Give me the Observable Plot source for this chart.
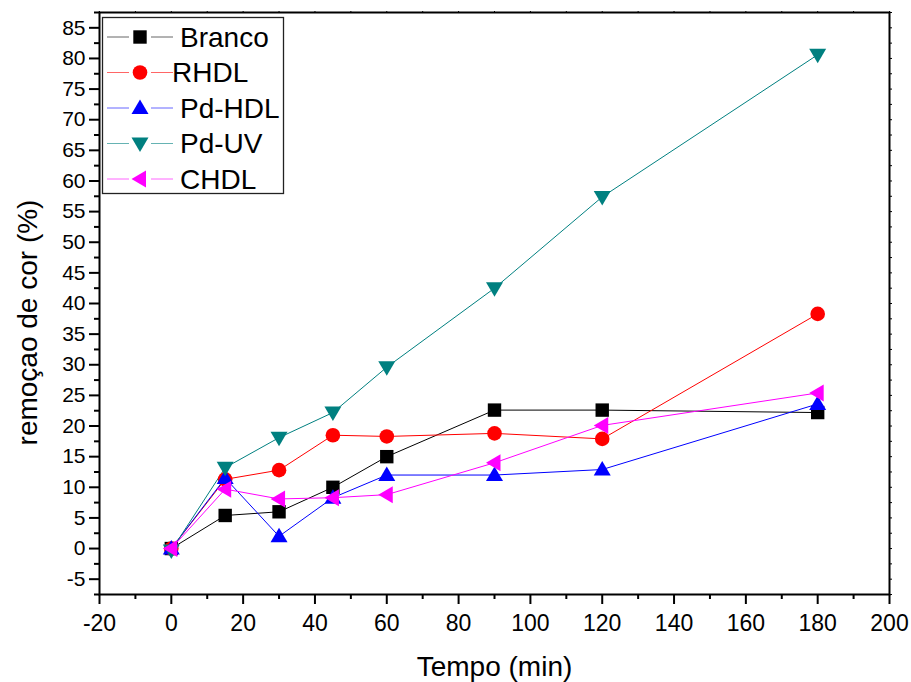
<!DOCTYPE html>
<html>
<head>
<meta charset="utf-8">
<script src="https://cdn.jsdelivr.net/npm/d3@7"></script>
<script src="https://cdn.jsdelivr.net/npm/@observablehq/plot@0.6"></script>
<style>
  html, body { margin: 0; padding: 0; background: #fff; }
  #wrap { position: relative; width: 911px; height: 682px; font-family: "Liberation Sans", Arial, sans-serif; }
  #legend { position: absolute; left: 102px; top: 17px; }
</style>
</head>
<body>
<div id="wrap"><div id="chart"></div><div id="legend"></div></div>
<script>
// ---- data ----
const tempo = [0, 15, 30, 45, 60, 90, 120, 180];
const branco = [0, 5.4, 6.0, 10.0, 15.0, 22.6, 22.6, 22.2];
const rhdl = [0, 11.3, 12.8, 18.5, 18.3, 18.8, 17.9, 38.3];
const pdHdl = [0, 11.5, 2.0, 8.3, 12.0, 12.0, 12.9, 23.6];
const pdUv = [-0.3, 13.2, 18.1, 22.2, 29.6, 42.5, 57.4, 80.6];
const chdl = [0, 9.7, 8.1, 8.3, 8.8, 14.0, 20.1, 25.4];
const seriesNames = ["Branco", "RHDL", "Pd-HDL", "Pd-UV", "CHDL"];
const seriesValues = [branco, rhdl, pdHdl, pdUv, chdl];
const xTicks = [-20, 0, 20, 40, 60, 80, 100, 120, 140, 160, 180, 200];
const yTicks = [-5, 0, 5, 10, 15, 20, 25, 30, 35, 40, 45, 50, 55, 60, 65, 70, 75, 80, 85];
const xLabel = "Tempo (min)";
const yLabel = "remoçao de cor (%)";

// ---- styles ----
const colors = ["#000000", "#ff0000", "#0000ff", "#008080", "#ff00ff"];
const k = s => Math.sqrt(s / Math.PI) / 7.5;
const poly = (pts) => ({ draw(ctx, size) { const f = k(size); ctx.moveTo(pts[0][0]*f, pts[0][1]*f); for (let i = 1; i < pts.length; i++) ctx.lineTo(pts[i][0]*f, pts[i][1]*f); ctx.closePath(); } });
const symSquare = poly([[-6.7,-6.7],[6.7,-6.7],[6.7,6.7],[-6.7,6.7]]);
const symCircle = { draw(ctx, size) { const r = 7.3 * k(size); ctx.moveTo(r, 0); ctx.arc(0, 0, r, 0, 2*Math.PI); } };
const symUp = poly([[0,-8.5],[8.5,6],[-8.5,6]]);
const symDown = poly([[0,8.5],[8.5,-6],[-8.5,-6]]);
const symLeft = poly([[-8.5,0],[6,-8.5],[6,8.5]]);
const symbols = [symSquare, symCircle, symUp, symDown, symLeft];

const rows = seriesNames.flatMap((n, i) => tempo.map((t, j) => ({ serie: n, tempo: t, valor: seriesValues[i][j] })));

const font = "'Liberation Sans', Arial, sans-serif";
const range = (a, b, s) => d3.range(a, b + 1e-9, s);
const plain = d => String(d);

const marks = [
  Plot.axisX(xTicks, { tickSize: 10, tickPadding: 10, fontSize: 23, strokeWidth: 2, label: null, tickFormat: plain }),
  Plot.axisX(range(-10, 190, 20), { tickSize: 5, tickFormat: () => "", strokeWidth: 2, label: null }),
  Plot.axisY(yTicks, { tickSize: 10, tickPadding: 4, fontSize: 21, strokeWidth: 2, label: null, tickFormat: plain }),
  Plot.axisY(range(-7.5, 87.5, 5), { tickSize: 5, tickFormat: () => "", strokeWidth: 2, label: null }),
  Plot.axisX(range(-20, 200, 10), { anchor: "top", tickSize: 2, tickFormat: () => "", strokeWidth: 1, label: null }),
  Plot.axisY(range(-7.5, 87.5, 2.5), { anchor: "right", tickSize: 2, tickFormat: () => "", strokeWidth: 1, label: null }),
  Plot.line(rows, { x: "tempo", y: "valor", z: "serie", stroke: "serie", strokeWidth: 1 }),
  ...seriesNames.map((n, i) => Plot.dot(rows.filter(d => d.serie === n), { x: "tempo", y: "valor", symbol: symbols[i], r: 7.5, fill: colors[i], stroke: "none" })),
  Plot.frame({ stroke: "black", strokeWidth: 2 }),
  Plot.text([xLabel], { frameAnchor: "bottom", dy: 73, fontSize: 28, lineAnchor: "middle", fill: "black" }),
  Plot.text([yLabel], { frameAnchor: "left", dx: -71, dy: 19, rotate: -90, fontSize: 28, lineAnchor: "middle", textAnchor: "middle", fill: "black" })
];

const chart = Plot.plot({
  width: 911, height: 682,
  marginLeft: 99, marginRight: 22, marginTop: 12, marginBottom: 88,
  x: { domain: [-20, 200] },
  y: { domain: [-7.5, 87.5] },
  color: { domain: seriesNames, range: colors },
  style: { fontFamily: font, fontSize: "21px", background: "white", color: "black", overflow: "visible" },
  marks
});
document.getElementById("chart").appendChild(chart);

// ---- legend (HTML overlay) ----
const lw = 182, rowH = 35.5, lh = 177;
const lsvg = d3.select("#legend").append("svg").attr("width", lw).attr("height", lh)
  .style("font-family", font).style("overflow", "visible");
lsvg.append("rect").attr("x", 0.5).attr("y", 0.5).attr("width", lw - 1).attr("height", lh - 1)
  .attr("fill", "white").attr("stroke", "#222").attr("stroke-width", 1.3);
seriesNames.forEach((n, i) => {
  const cy = 20 + i * rowH;
  const g = lsvg.append("g").attr("transform", `translate(0,${cy})`);
  g.append("line").attr("x1", 5).attr("x2", 27).attr("y1", 0).attr("y2", 0).attr("stroke", colors[i]).attr("stroke-opacity", 0.6);
  g.append("line").attr("x1", 49).attr("x2", 71).attr("y1", 0).attr("y2", 0).attr("stroke", colors[i]).attr("stroke-opacity", 0.6);
  const path = d3.path(); symbols[i].draw(path, Math.PI * 7.5 * 7.5);
  g.append("path").attr("transform", "translate(38,0)").attr("d", path.toString()).attr("fill", colors[i]);
  g.append("text").attr("x", i === 1 ? 70 : 78).attr("y", 0).attr("dy", "0.35em").attr("font-size", 28).attr("fill", "black").text(n);
});
</script>
</body>
</html>
